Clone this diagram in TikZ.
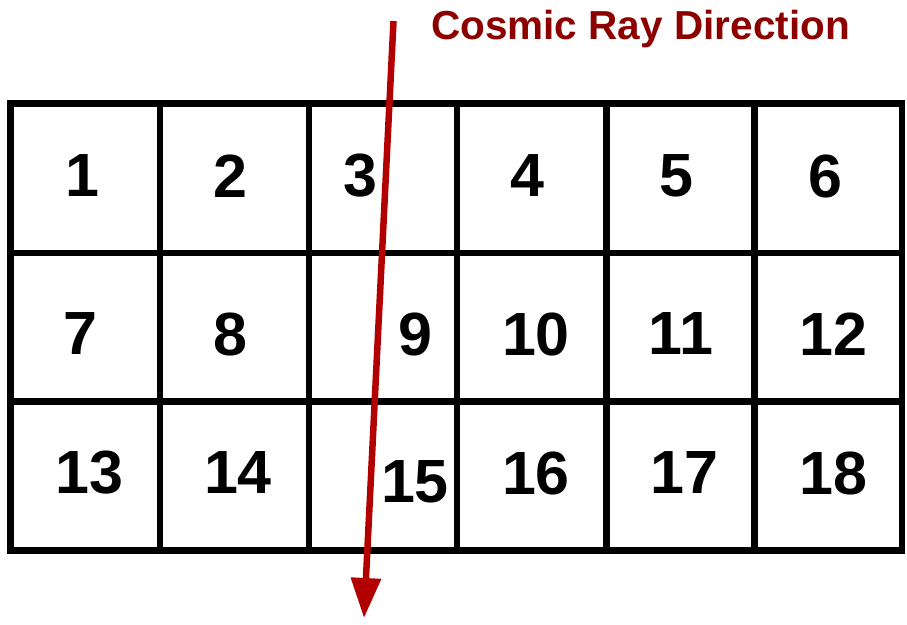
\documentclass[tikz,border=0pt]{standalone}
\usepackage{fontspec}
\setmainfont{Liberation Sans}
\usetikzlibrary{arrows.meta}
\definecolor{raytext}{RGB}{140,0,0}
\definecolor{rayline}{RGB}{178,0,0}
\tikzset{
  gridline/.style={line width=6.5pt, line cap=rect, black},
  num/.style={inner sep=0pt, font=\fontsize{61}{61}\selectfont\bfseries},
  raylabel/.style={inner sep=0pt, anchor=base, text=raytext, font=\fontsize{40.5}{40.5}\selectfont\bfseries},
  rayarrow/.style={line width=6.5pt, draw=rayline, -{Triangle[length=40pt,width=29pt]}},
}
\begin{document}
\begin{tikzpicture}[x=1pt,y=-1pt]
\useasboundingbox (0,0) rectangle (907,624);
% grid
\foreach \yy in {103.5,253,401.5,550.5}
  \draw[gridline] (10.5,\yy) -- (902,\yy);
\foreach \xx in {10.5,159.8,308.8,457,606.5,754.5,902}
  \draw[gridline] (\xx,103.5) -- (\xx,550.5);
% numbers
\node[num] (n1)  at (82,176) {1};
\node[num] (n2)  at (230,176) {2};
\node[num] (n3)  at (360,176) {3};
\node[num] (n4)  at (527.5,176) {4};
\node[num] (n5)  at (676,176) {5};
\node[num] (n6)  at (825,176) {6};
\node[num] (n7)  at (80.5,334) {7};
\node[num] (n8)  at (230,334) {8};
\node[num] (n9)  at (415,334) {9};
\node[num] (n10) at (536,334) {10};
\node[num] (n11) at (681,334) {11};
\node[num] (n12) at (833.5,334) {12};
\node[num] (n13) at (89.7,473) {13};
\node[num] (n14) at (238,473) {14};
\node[num] (n15) at (415,482) {15};
\node[num] (n16) at (536,473) {16};
\node[num] (n17) at (684.5,473) {17};
\node[num] (n18) at (833.5,473) {18};
% cosmic ray
\node[raylabel] (lbl) at (640.5,39) {Cosmic Ray Direction};
\coordinate (raystart) at (393.5,21);
\coordinate (rayend) at (364,618);
\draw[rayarrow] (raystart) -- (rayend);
\end{tikzpicture}
\end{document}
